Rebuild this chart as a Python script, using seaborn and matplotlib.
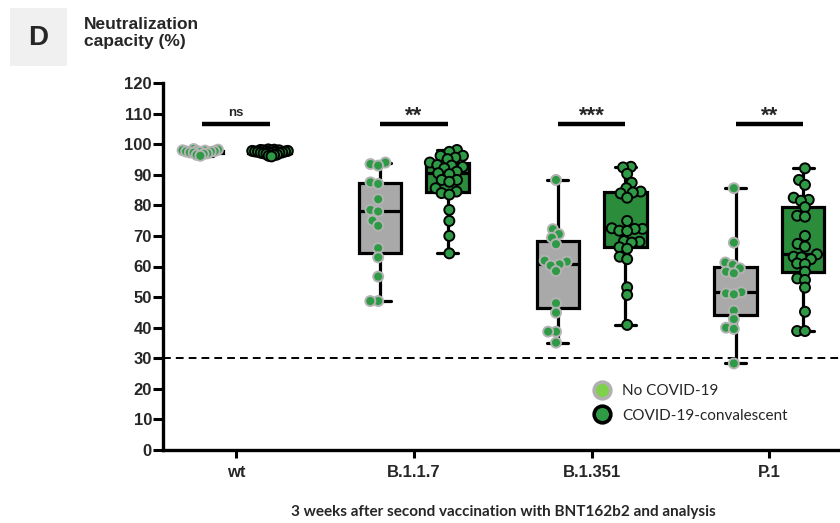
import warnings

import matplotlib
matplotlib.use("Agg")
import matplotlib.pyplot as plt
from matplotlib.lines import Line2D
from matplotlib.patches import Rectangle
import pandas as pd
import seaborn as sns

warnings.filterwarnings("ignore", category=UserWarning)

# ---- data -------------------------------------------------------------
variants = ["wt", "B.1.1.7", "B.1.351", "P.1"]
groups = ["No COVID-19", "COVID-19-convalescent"]

naive_wt = [98.4, 98.2, 98.0, 97.9, 97.8, 97.7, 97.6, 97.5, 97.4, 97.3,
            97.2, 97.0, 96.8, 96.5, 96.2]
conv_wt = [98.3, 98.2, 98.1, 98.0, 98.0, 97.9, 97.8, 97.8, 97.7, 97.6,
           97.6, 97.5, 97.5, 97.4, 97.3, 97.3, 97.2, 97.1, 97.0, 96.9,
           96.8, 96.6, 96.4, 96.2, 96.0]

naive_b117 = [94.0, 93.5, 93.0, 87.5, 87.0, 82.0, 78.5, 78.0, 75.0, 73.3,
              66.0, 63.0, 56.7, 48.7, 48.7]
conv_b117 = [98.1, 97.5, 96.2, 96.2, 95.6, 95.1, 94.0, 93.2, 93.0, 92.6,
             92.1, 91.0, 90.5, 90.2, 88.3, 88.3, 87.7, 85.6, 84.5, 84.0,
             83.5, 78.5, 74.9, 70.0, 64.3]

naive_b1351 = [88.3, 72.2, 70.6, 69.4, 67.3, 61.9, 61.6, 60.7, 60.3, 58.5,
               48.0, 44.9, 38.7, 38.7, 35.1]
conv_b1351 = [92.6, 92.4, 90.3, 87.4, 85.6, 84.5, 84.2, 83.9, 82.5, 74.9,
              72.5, 72.3, 72.3, 71.7, 71.6, 68.3, 68.1, 67.8, 66.3, 65.8,
              63.2, 62.4, 53.2, 50.7, 40.9]

naive_p1 = [85.6, 67.8, 61.3, 60.5, 59.4, 58.3, 57.8, 51.6, 51.2, 50.9,
            45.6, 42.8, 40.0, 39.6, 28.3]
conv_p1 = [92.1, 88.3, 86.7, 82.5, 81.8, 81.5, 79.4, 76.6, 76.3, 70.0,
           67.4, 66.5, 64.0, 63.2, 63.0, 62.4, 61.0, 60.8, 58.3, 56.1,
           55.6, 53.1, 45.2, 38.9, 38.9]

naive_values = [naive_wt, naive_b117, naive_b1351, naive_p1]
conv_values = [conv_wt, conv_b117, conv_b1351, conv_p1]

sig_labels = ["ns", "**", "***", "**"]
sig_level = 106.6
cutoff = 30
yticks = list(range(0, 121, 10))

rows = []
for variant, naive, conv in zip(variants, naive_values, conv_values):
    rows += [(variant, groups[0], v) for v in naive]
    rows += [(variant, groups[1], v) for v in conv]
df = pd.DataFrame(rows, columns=["variant", "group", "neut"])

# ---- style ------------------------------------------------------------
sns.set_theme(style="white")
plt.rcParams["font.family"] = ["Liberation Sans", "DejaVu Sans"]

box_colors = {groups[0]: "#a9a9a9", groups[1]: "#2b8c3c"}
dot_green = "#2e9a45"
dot_edges = {groups[0]: "#b3b3b3", groups[1]: "black"}

fig = plt.figure(figsize=(8.4, 5.23), dpi=100)
fig.patch.set_facecolor("white")
ax = fig.add_axes([163 / 840, 73 / 523, 690 / 840, 367 / 523])

dodge_width = 0.76
sns.boxplot(data=df, x="variant", y="neut", hue="group",
            order=variants, hue_order=groups, palette=box_colors,
            width=dodge_width, gap=0.37, whis=(0, 100), showfliers=False,
            linewidth=2.3, linecolor="black", saturation=1,
            legend=False, ax=ax)

# swarm layout is computed with small, edge-less markers so the dots pack
# tightly and overlap; the markers get their full size and edge afterwards.
# The nearly saturated wild-type values use a tighter packing.
n_before = len(ax.collections)
layout_sizes = {
    (groups[0], "wt"): 2.6, (groups[0], "other"): 5.4,
    (groups[1], "wt"): 2.0, (groups[1], "other"): 5.4,
}
for g in groups:
    sub = df[df["group"] == g]
    for key, part in (("wt", sub[sub["variant"] == "wt"]),
                      ("other", sub[sub["variant"] != "wt"])):
        sns.swarmplot(data=part, x="variant", y="neut",
                      hue="group", order=variants, hue_order=groups,
                      palette={groups[0]: dot_green, groups[1]: dot_green},
                      dodge=True, size=layout_sizes[(g, key)],
                      edgecolor=dot_edges[g], linewidth=0,
                      legend=False, zorder=4, ax=ax)
swarms = ax.collections[n_before:]

# positivity cut-off
ax.axhline(cutoff, color="black", lw=1.4, ls=(0, (4, 2.6)), zorder=1)

# significance brackets between the two groups of each variant
half = dodge_width / 4
for i, label in enumerate(sig_labels):
    ax.plot([i - half, i + half], [sig_level, sig_level],
            color="black", lw=3.2, solid_capstyle="butt", zorder=5)
    if label == "ns":
        ax.text(i, sig_level + 1.6, label, ha="center", va="bottom",
                fontsize=9.5, fontweight="bold")
    else:
        ax.text(i, sig_level - 0.9, label, ha="center", va="bottom",
                fontsize=16, fontweight="bold")

# axes
ax.set_xlim(-0.41, 3.47)
ax.set_ylim(0, 120)
ax.set_yticks(yticks)
ax.set_yticklabels([str(t) for t in yticks])
for side in ("top", "right"):
    ax.spines[side].set_visible(False)
for side in ("left", "bottom"):
    ax.spines[side].set_linewidth(2.4)
    ax.spines[side].set_color("black")
ax.tick_params(axis="y", length=7, width=2.2, pad=1, labelsize=12,
               color="black", left=True)
ax.tick_params(axis="x", length=6, width=2.2, pad=5, labelsize=12,
               color="black", bottom=True)
for lab in ax.get_xticklabels() + ax.get_yticklabels():
    lab.set_fontweight("bold")
ax.set_ylabel("")
ax.set_xlabel("3 weeks after second vaccination with BNT162b2 and analysis",
              fontsize=11, fontweight="bold", family=["Lato", "DejaVu Sans"])
ax.xaxis.set_label_coords((503 - 163) / 690, -0.15)

# legend
handles = [
    Line2D([], [], ls="none", marker="o", markersize=12,
           markerfacecolor="#7fd04b", markeredgecolor="#b0b0b0",
           markeredgewidth=2.6),
    Line2D([], [], ls="none", marker="o", markersize=12,
           markerfacecolor="#2e9a45", markeredgecolor="black",
           markeredgewidth=2.6),
]
fig.legend(handles, groups, loc="upper left",
           bbox_to_anchor=(593 / 840, (523 - 384) / 523),
           bbox_transform=fig.transFigure, frameon=False,
           borderpad=0, borderaxespad=0, handlelength=1.2,
           handletextpad=0.7, labelspacing=0.7,
           prop={"family": ["Lato", "DejaVu Sans"], "size": 11})

# panel letter and y-axis title
fig.patches.append(Rectangle((10 / 840, (523 - 66) / 523), 57 / 840, 58 / 523,
                             transform=fig.transFigure, facecolor="#f0f0f0",
                             edgecolor="none", zorder=0))
fig.text(38 / 840, (523 - 38) / 523, "D", ha="center", va="center",
         fontsize=20, fontweight="bold")
fig.text(84 / 840, (523 - 17) / 523, "Neutralization\ncapacity (%)",
         ha="left", va="top", fontsize=12.5, fontweight="bold",
         linespacing=1.2)

# fix the swarm positions, then give the dots their display size and edge
fig.canvas.draw()
for coll in swarms:
    if "draw" in coll.__dict__:
        del coll.draw
    coll.set_sizes([7.2 ** 2] * len(coll.get_offsets()))
    coll.set_linewidths([1.4])

fig.savefig("out.png", dpi=100, facecolor="white")
